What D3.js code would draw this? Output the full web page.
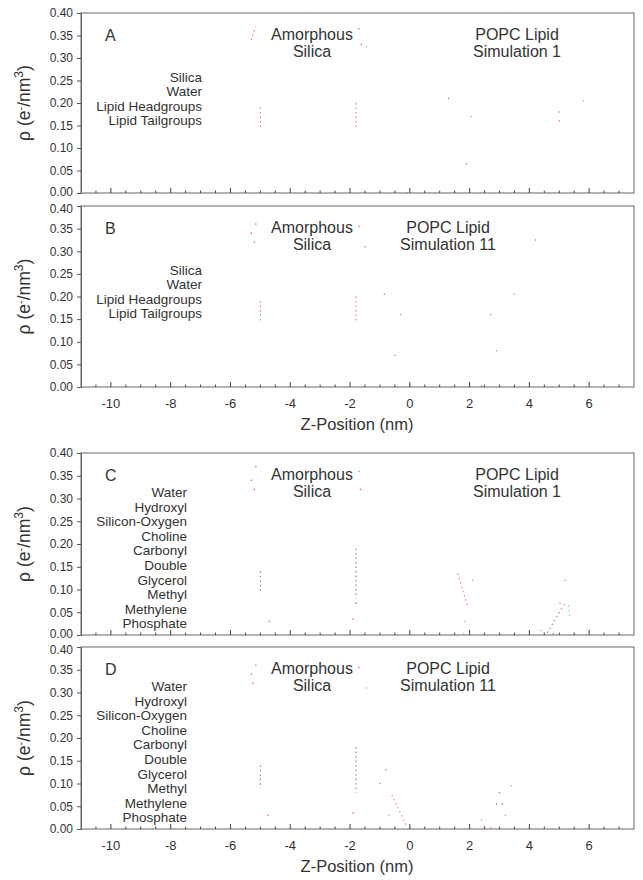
<!DOCTYPE html>
<html><head><meta charset="utf-8">
<script src="https://cdn.jsdelivr.net/npm/d3@7"></script>
<style>body{margin:0;background:#fff}svg{display:block;font-family:"Liberation Sans",Arial,sans-serif}</style>
</head><body><svg id="c" width="643" height="880"></svg>
<script>
// ---- data ----
const xTicks = [-10,-8,-6,-4,-2,0,2,4,6];
const yTicks = [0,0.05,0.10,0.15,0.20,0.25,0.30,0.35,0.40];
const legendAB = ["Silica","Water","Lipid Headgroups","Lipid Tailgroups"];
const legendCD = ["Water","Hydroxyl","Silicon-Oxygen","Choline","Carbonyl","Double","Glycerol","Methyl","Methylene","Phosphate"];
const colorsAB = ["#e0304a","#30b0a8","#40a040","#a04080"];
const colorsCD = ["#e0304a","#30b8c8","#7a2a60","#40a040","#c8b020"];
// series fragments [z, rho]; null separates fragments
const seriesA = [
  [[-5.3,0.34],[-5.15,0.37],null,[-5.0,0.19],[-5.0,0.14],null,[-1.8,0.20],[-1.8,0.14],null,[-1.7,0.365],null,[-1.62,0.33],null,[1.3,0.21],null,[1.9,0.065],null,[5.0,0.16]],
  [[2.05,0.17],null,[5.8,0.205],null,[-1.45,0.325]],
  [[5.0,0.18],null,[-0.1,0.0]],
  [[2.5,0.002],null,[4.0,0.002]]
];
const seriesB = [
  [[-5.15,0.36],null,[-5.3,0.34],null,[-5.2,0.32],null,[-5.0,0.19],[-5.0,0.14],null,[-1.8,0.20],[-1.8,0.14],null,[-1.7,0.355],null,[-1.5,0.31],null,[-0.85,0.205],null,[4.2,0.325]],
  [[-0.3,0.16],null,[2.7,0.16],null,[3.5,0.205]],
  [[-0.5,0.07],null,[2.9,0.08]],
  [[2.4,0.002],null,[0.0,0.005]]
];
const seriesC = [
  [[-5.3,0.34],null,[-5.15,0.37],null,[-5.2,0.32],null,[-4.7,0.03],null,[-1.7,0.36],null,[-1.65,0.32],null,[-1.9,0.035],null,[1.6,0.135],[1.95,0.06],null,[5.0,0.07],[5.25,0.065]],
  [[2.1,0.12],null,[1.85,0.03],null,[5.2,0.12],null,[5.3,0.065],[5.35,0.04],null,[4.4,0.01]],
  [[-5.0,0.14],[-5.0,0.09],null,[-1.8,0.19],[-1.8,0.08],null,[4.6,0.005],[5.1,0.06]],
  [[2.0,0.003],null,[4.8,0.003],null,[-1.8,0.07]],
  [[1.8,0.003],null,[4.5,0.005]]
];
const seriesD = [
  [[-5.15,0.36],null,[-5.3,0.34],null,[-5.25,0.32],null,[-4.75,0.03],null,[-1.7,0.355],null,[-1.9,0.035],null,[-0.6,0.075],[-0.1,0.005],null,[2.5,0.005],null,[3.0,0.08]],
  [[3.4,0.095],null,[2.4,0.02],null,[-1.45,0.31],null,[3.2,0.03]],
  [[-5.0,0.14],[-5.0,0.09],null,[-1.8,0.18],[-1.8,0.08],null,[2.9,0.055],null,[3.1,0.055]],
  [[-0.8,0.13],null,[-1.0,0.10],null,[0.0,0.003]],
  [[-0.7,0.03],null,[2.7,0.003]]
];
const panels = [
  {letter:"A", sim:"Simulation 1", top:13, bottom:193, legend:legendAB, colors:colorsAB, series:seriesA, legRight:202, legTop:77, legStep:14.4, popcX:517, xlabels:false, below:true, above:false},
  {letter:"B", sim:"Simulation 11", top:206, bottom:387, legend:legendAB, colors:colorsAB, series:seriesB, legRight:202, legTop:270, legStep:14.4, popcX:448, xlabels:true, below:false, above:true},
  {letter:"C", sim:"Simulation 1", top:453, bottom:635, legend:legendCD, colors:colorsCD, series:seriesC, legRight:187, legTop:492, legStep:14.6, popcX:517, xlabels:false, below:true, above:false},
  {letter:"D", sim:"Simulation 11", top:647, bottom:829, legend:legendCD, colors:colorsCD, series:seriesD, legRight:187, legTop:686, legStep:14.6, popcX:448, xlabels:true, below:false, above:true}
];

const svg = d3.select("#c");
const x = d3.scaleLinear().domain([-11,7.5]).range([81,634]);
const tc = "#333";

panels.forEach(p => {
  const y = d3.scaleLinear().domain([0,0.4]).range([p.bottom,p.top]);
  const g = svg.append("g");
  g.append("rect").attr("x",81).attr("y",p.top).attr("width",553).attr("height",p.bottom-p.top)
    .attr("fill","none").attr("stroke","#666").attr("stroke-width",1);
  const minor = d3.range(-10.5,7.01,0.5);
  g.selectAll(".mt").data(minor).enter().append("line")
    .attr("x1",d=>x(d)).attr("x2",d=>x(d))
    .attr("y1",p.bottom).attr("y2",d=>p.bottom-(Math.abs(d%2)<1e-9?5:2.5))
    .attr("stroke","#444").attr("stroke-width",1);
  const ya = d3.axisLeft(y).tickValues(yTicks).tickFormat(d3.format(".2f")).tickSize(4).tickPadding(4);
  const yg = g.append("g").attr("transform","translate(81,0)").call(ya);
  yg.select(".domain").attr("stroke","#666");
  yg.selectAll(".tick line").attr("stroke","#555");
  yg.selectAll("text").attr("font-size",12).attr("fill",tc).attr("font-family","Liberation Sans, Arial");
  // avoid collision of stacked panels' 0.00 / 0.40 labels
  yg.selectAll(".tick").filter(d=>d===0 && p.below).select("text").attr("dy","0.2em");
  yg.selectAll(".tick").filter(d=>d===0.4 && p.above).select("text").attr("dy","0.5em");
  if (p.xlabels) {
    g.selectAll(".xl").data(xTicks).enter().append("text")
      .attr("x",d=>x(d)).attr("y",p.bottom+21).attr("text-anchor","middle")
      .attr("font-size",13).attr("fill",tc).text(d=>d);
    g.append("text").attr("x",357).attr("y",p.bottom+43).attr("text-anchor","middle")
      .attr("font-size",16.5).attr("fill",tc).text("Z-Position (nm)");
  }
  const cy = (p.top+p.bottom)/2;
  const yt = g.append("text").attr("transform",`translate(30,${cy}) rotate(-90)`)
    .attr("text-anchor","middle").attr("font-size",17.5).attr("fill",tc);
  yt.append("tspan").text("ρ (e");
  yt.append("tspan").attr("baseline-shift","super").attr("font-size",11).text("-");
  yt.append("tspan").text("/nm");
  yt.append("tspan").attr("baseline-shift","super").attr("font-size",12).text("3");
  yt.append("tspan").text(")");
  g.append("text").attr("x",105).attr("y",p.top+28).attr("font-size",16).attr("fill",tc).text(p.letter);
  g.append("text").attr("x",312).attr("y",p.top+27).attr("text-anchor","middle").attr("font-size",16).attr("fill",tc).text("Amorphous");
  g.append("text").attr("x",312).attr("y",p.top+44).attr("text-anchor","middle").attr("font-size",16).attr("fill",tc).text("Silica");
  g.append("text").attr("x",p.popcX).attr("y",p.top+27).attr("text-anchor","middle").attr("font-size",16).attr("fill",tc).text("POPC Lipid");
  g.append("text").attr("x",p.popcX).attr("y",p.top+44).attr("text-anchor","middle").attr("font-size",16).attr("fill",tc).text(p.sim);
  g.selectAll(".lg").data(p.legend).enter().append("text")
    .attr("x",p.legRight).attr("y",(d,i)=>p.legTop+i*p.legStep+5).attr("text-anchor","end")
    .attr("font-size",13.5).attr("fill",tc).text(d=>d);
  const line = d3.line().defined(d=>d!==null).x(d=>x(d[0])).y(d=>y(d[1]));
  p.series.forEach((s,i) => {
    const col = p.colors[i % p.colors.length];
    g.append("path").datum(s).attr("d",line).attr("fill","none").attr("stroke",col)
      .attr("stroke-width",1).attr("stroke-dasharray","1.5,3").attr("opacity",0.75);
    const singles = s.filter((d,k)=>d!==null && (k===0||s[k-1]===null) && (k===s.length-1||s[k+1]===null));
    g.selectAll(null).data(singles).enter().append("circle")
      .attr("cx",d=>x(d[0])).attr("cy",d=>y(d[1])).attr("r",0.8).attr("fill",col).attr("opacity",0.75);
  });
});
</script></body></html>
